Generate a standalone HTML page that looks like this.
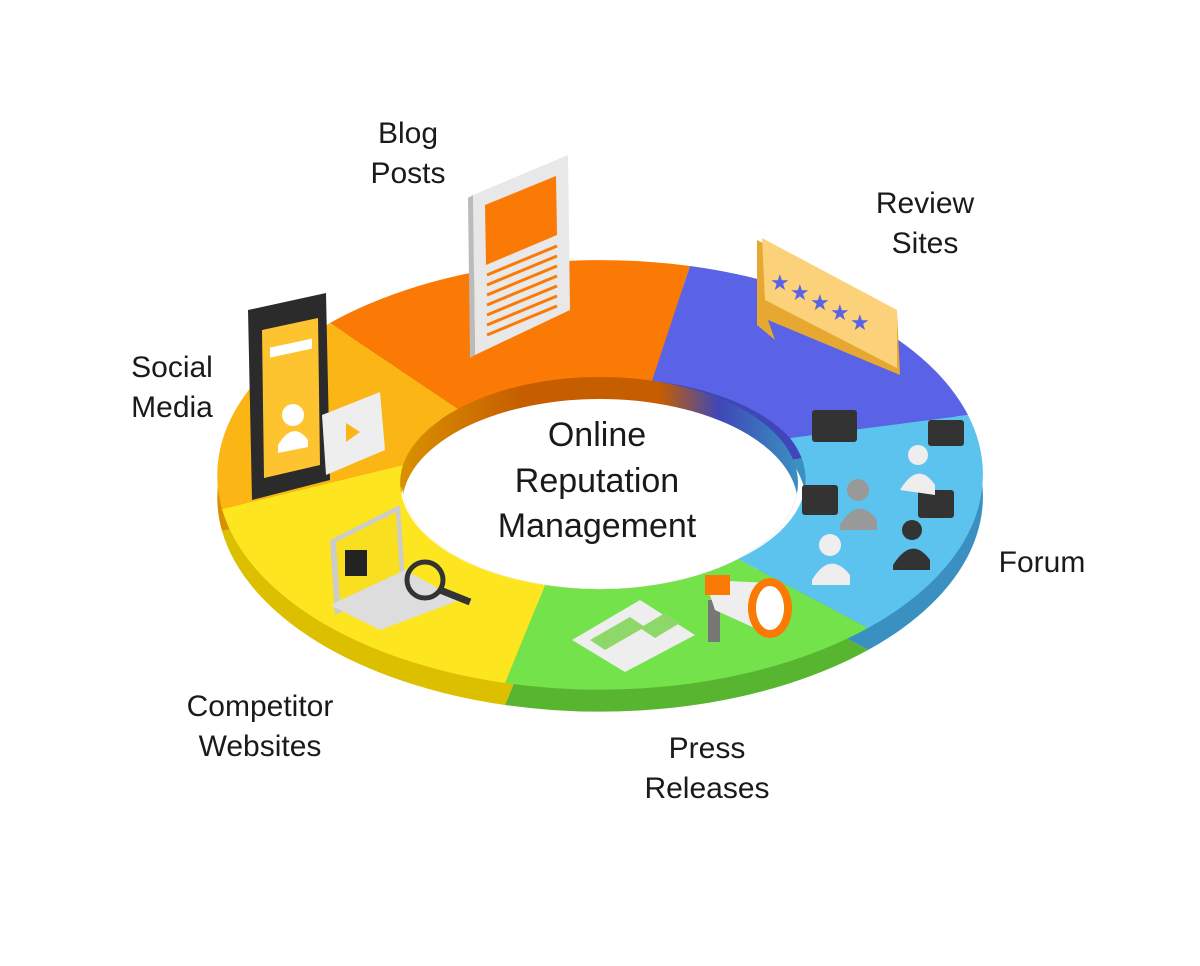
<!DOCTYPE html>
<html><head><meta charset="utf-8"><style>
body{margin:0;background:#fff;width:1200px;height:961px;overflow:hidden}
text{font-family:"Liberation Sans","DejaVu Sans",sans-serif;fill:#1a1a1a}
</style></head><body>
<svg width="1200" height="961" viewBox="0 0 1200 961">
<defs>
<clipPath id="hole"><ellipse cx="600" cy="483" rx="198" ry="106"/></clipPath>
<linearGradient id="wall" x1="0" x2="1"><stop offset="0" stop-color="#d99000"/><stop offset="0.3" stop-color="#c65e00"/><stop offset="0.65" stop-color="#c65e00"/><stop offset="0.8" stop-color="#3f47b8"/><stop offset="1" stop-color="#3a90c0"/></linearGradient>
</defs>
<g transform="translate(0,22)">
<path d="M330 323 A383 215 0 0 1 690 266 L652 381 A198 106 0 0 0 458 409Z" fill="#c65e00"/>
<path d="M690 266 A383 215 0 0 1 968 415 L790 438 A198 106 0 0 0 652 381Z" fill="#3f47b8"/>
<path d="M968 415 A383 215 0 0 1 868 628 L738 559 A198 106 0 0 0 790 438Z" fill="#3a90c0"/>
<path d="M868 628 A383 215 0 0 1 505 683 L545 585 A198 106 0 0 0 738 559Z" fill="#58b530"/>
<path d="M505 683 A383 215 0 0 1 222 509 L403 465 A198 106 0 0 0 545 585Z" fill="#dcc000"/>
<path d="M222 509 A383 215 0 0 1 330 323 L458 409 A198 106 0 0 0 403 465Z" fill="#d99000"/>
</g>
<path d="M330 323 A383 215 0 0 1 690 266 L652 381 A198 106 0 0 0 458 409Z" fill="#fb7a05"/>
<path d="M690 266 A383 215 0 0 1 968 415 L790 438 A198 106 0 0 0 652 381Z" fill="#5a62e6"/>
<path d="M968 415 A383 215 0 0 1 868 628 L738 559 A198 106 0 0 0 790 438Z" fill="#5cc3ee"/>
<path d="M868 628 A383 215 0 0 1 505 683 L545 585 A198 106 0 0 0 738 559Z" fill="#74e24a"/>
<path d="M505 683 A383 215 0 0 1 222 509 L403 465 A198 106 0 0 0 545 585Z" fill="#fde520"/>
<path d="M222 509 A383 215 0 0 1 330 323 L458 409 A198 106 0 0 0 403 465Z" fill="#fbb616"/>
<ellipse cx="600" cy="483" rx="198" ry="106" fill="url(#wall)"/>
<ellipse cx="600" cy="505" rx="198" ry="106" fill="#fff" clip-path="url(#hole)"/>

<polygon points="473,195 568,155 570,310 475,355" fill="#e8e8e8"/>
<polygon points="468,198 473,195 475,355 470,358" fill="#bbb"/>
<polygon points="485,205 556,176 557,235 486,265" fill="#fb7a05"/>
<g stroke="#fb7a05" stroke-width="3">
<line x1="487" y1="275" x2="557" y2="246"/><line x1="487" y1="285" x2="557" y2="256"/><line x1="487" y1="295" x2="557" y2="266"/><line x1="487" y1="305" x2="557" y2="276"/><line x1="487" y1="315" x2="557" y2="286"/><line x1="487" y1="325" x2="557" y2="296"/><line x1="487" y1="335" x2="557" y2="306"/></g>
<polygon points="248,310 326,293 330,480 252,500" fill="#2b2b2b"/>
<polygon points="262,330 318,318 320,465 264,478" fill="#fdc430"/>
<rect x="270" y="345" width="42" height="10" fill="#fff" transform="skewY(-12) translate(0,60)"/>
<circle cx="293" cy="415" r="11" fill="#fff"/>
<path d="M278 445 Q293 420 308 440 L308 447 L278 453Z" fill="#fff"/>
<polygon points="322,415 380,392 385,450 326,475" fill="#eee"/>
<polygon points="346,423 360,432 346,442" fill="#fbb616"/>
<polygon points="757,240 897,312 900,375 768,320 775,340 757,325" fill="#e6a830"/>
<polygon points="762,238 897,310 897,368 765,300" fill="#fbd27a"/>
<g font-size="22"><text x="770" y="290" style="fill:#5a62e6">★</text><text x="790" y="300" style="fill:#5a62e6">★</text><text x="810" y="310" style="fill:#5a62e6">★</text><text x="830" y="320" style="fill:#5a62e6">★</text><text x="850" y="330" style="fill:#5a62e6">★</text></g>
<g fill="#333"><rect x="812" y="410" width="45" height="32" rx="3"/><rect x="928" y="420" width="36" height="26" rx="3"/><rect x="802" y="485" width="36" height="30" rx="3"/><rect x="918" y="490" width="36" height="28" rx="3"/>
<circle cx="912" cy="530" r="10"/><path d="M893 565 Q912 535 930 560 L930 570 L893 570Z"/></g>
<g fill="#eee"><circle cx="918" cy="455" r="10"/><path d="M900 490 Q918 460 935 485 L935 495Z"/><circle cx="830" cy="545" r="11"/><path d="M812 580 Q830 550 850 575 L850 585 L812 585Z"/></g>
<g fill="#999"><circle cx="858" cy="490" r="11"/><path d="M840 525 Q858 495 877 520 L877 530 L840 530Z"/></g>
<polygon points="330,540 400,505 405,580 335,615" fill="#ccc"/>
<polygon points="336,542 396,512 400,575 340,605" fill="#f8df20"/>
<rect x="345" y="550" width="22" height="26" fill="#222"/>
<polygon points="330,605 405,570 460,600 380,630" fill="#ddd"/>
<circle cx="425" cy="580" r="18" fill="none" stroke="#333" stroke-width="5"/>
<line x1="440" y1="590" x2="470" y2="602" stroke="#333" stroke-width="7"/>
<polygon points="572,640 640,600 695,635 625,672" fill="#eee"/>
<polygon points="590,640 630,617 645,627 605,650" fill="#8ed86a"/>
<polygon points="640,628 665,613 680,623 655,638" fill="#8ed86a"/>
<rect x="708" y="600" width="12" height="42" fill="#777"/>
<polygon points="705,580 770,583 770,635 715,610" fill="#eee"/>
<ellipse cx="770" cy="608" rx="22" ry="30" fill="#fb7a05"/>
<ellipse cx="770" cy="608" rx="14" ry="22" fill="#fff"/>
<rect x="705" y="575" width="25" height="20" fill="#fb7a05"/>

<g font-size="30" text-anchor="middle">
<text x="408" y="143">Blog</text><text x="408" y="183">Posts</text>
<text x="925" y="213">Review</text><text x="925" y="253">Sites</text>
<text x="172" y="377">Social</text><text x="172" y="417">Media</text>
<text x="1042" y="572">Forum</text>
<text x="260" y="716">Competitor</text><text x="260" y="756">Websites</text>
<text x="707" y="758">Press</text><text x="707" y="798">Releases</text>
</g>
<g font-size="34" text-anchor="middle">
<text x="597" y="446">Online</text><text x="597" y="492">Reputation</text><text x="597" y="537">Management</text>
</g>
</svg>
</body></html>
